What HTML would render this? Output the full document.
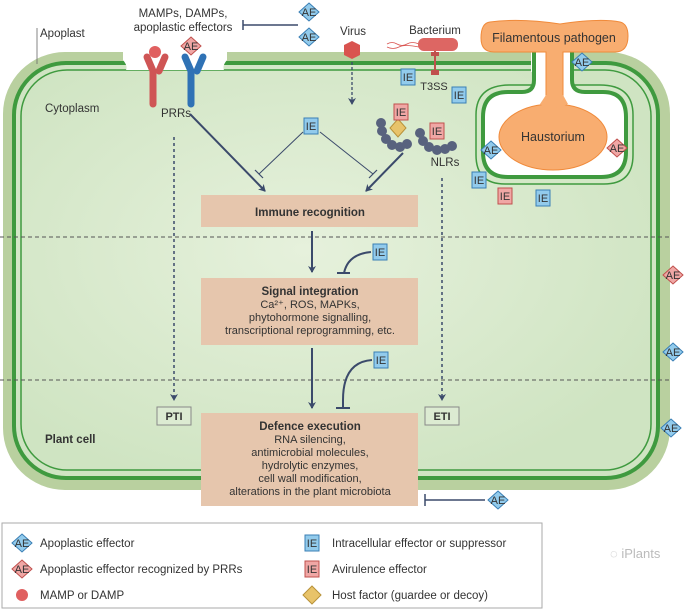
<!DOCTYPE html>
<html><head><meta charset="utf-8"><style>
html,body{margin:0;padding:0;background:#fff;}
svg{display:block;font-family:"Liberation Sans",sans-serif;}
</style></head><body>
<svg width="685" height="611" viewBox="0 0 685 611" xmlns="http://www.w3.org/2000/svg">
<defs>
<radialGradient id="cy" cx="0.45" cy="0.45" r="0.6"><stop offset="0" stop-color="#e6f1dc"/><stop offset="1" stop-color="#cfe4c2"/></radialGradient>
<g id="aeb"><path d="M0,-9 L10,0 L0,9 L-10,0Z" fill="#92cbec" stroke="#3a7fb5" stroke-width="1"/><text x="0" y="4" font-size="11" text-anchor="middle" fill="#333">AE</text></g>
<g id="aer"><path d="M0,-9 L10,0 L0,9 L-10,0Z" fill="#f0a7a5" stroke="#c0504d" stroke-width="1"/><text x="0" y="4" font-size="11" text-anchor="middle" fill="#333">AE</text></g>
<g id="ieb"><rect x="-7" y="-8" width="14" height="16" fill="#92cbec" stroke="#3a7fb5" stroke-width="1"/><text x="0" y="4" font-size="11" text-anchor="middle" fill="#333">IE</text></g>
<g id="ier"><rect x="-7" y="-8" width="14" height="16" fill="#f0a7a5" stroke="#c0504d" stroke-width="1"/><text x="0" y="4" font-size="11" text-anchor="middle" fill="#333">IE</text></g>
<marker id="ah" markerWidth="8" markerHeight="8" refX="6" refY="4" orient="auto" markerUnits="userSpaceOnUse"><path d="M0,0 L7,4 L0,8 L2,4Z" fill="#3b4a6b"/></marker>
</defs>
<!-- wall -->
<rect x="3" y="52" width="667" height="438" rx="62" fill="#b9d09f"/>
<rect x="14" y="63" width="644" height="415" rx="52" fill="url(#cy)" stroke="#3f9a3f" stroke-width="4"/>
<rect x="21" y="70" width="630" height="400" rx="46" fill="none" stroke="#3f9a3f" stroke-width="1.5"/>
<!-- white blob at PRRs -->
<path d="M123,48 L227,48 L227,60 Q222,66 224,70 L126,70 Q128,66 123,60Z" fill="#fff"/>
<!-- pathogen gap -->
<rect x="531" y="40" width="42" height="32" fill="#fff"/>
<path d="M541,40 L541,76 Q541,85 532,85 L510,85 Q476,85 476,115 L476,155 Q476,184 505,184 L604,184 Q633,184 633,155 L633,115 Q633,85 600,85 L575,85 Q566,85 566,76 L566,40" fill="#d4e8c7" stroke="#3f9a3f" stroke-width="1.5"/>
<path d="M534,40 L534,80 Q534,92 522,92 L508,92 Q483,92 483,117 L483,152 Q483,177 508,177 L601,177 Q626,177 626,152 L626,117 Q626,92 603,92 L585,92 Q572,92 572,80 L572,40" fill="#fff" stroke="#3f9a3f" stroke-width="4"/>
<rect x="536" y="40" width="34" height="24" fill="#fff"/>
<!-- pathogen -->
<path d="M490,22 Q520,18 560,24 Q600,18 620,22 Q628,24 628,36 Q628,52 615,52 L563,52 L563,100 L546,100 L546,52 L494,52 Q481,52 481,38 Q481,23 490,22Z" fill="#f8ad70" stroke="#f08a3a" stroke-width="1"/>
<ellipse cx="553" cy="137" rx="54" ry="33" fill="#f8ad70" stroke="#f08a3a" stroke-width="1"/>
<path d="M540,104 Q550,112 568,104 L563,95 L546,95Z" fill="#f8ad70"/>
<text x="554" y="42" font-size="12.5" text-anchor="middle" fill="#333">Filamentous pathogen</text>
<text x="553" y="141" font-size="12.5" text-anchor="middle" fill="#333">Haustorium</text>
<!-- dashed lines -->
<line x1="0" y1="237" x2="670" y2="237" stroke="#555" stroke-width="1" stroke-dasharray="4,3"/>
<line x1="0" y1="380" x2="670" y2="380" stroke="#555" stroke-width="1" stroke-dasharray="4,3"/>
<!-- labels -->
<line x1="37" y1="28" x2="37" y2="64" stroke="#666" stroke-width="0.8"/>
<text x="40" y="37" font-size="11.5" fill="#333">Apoplast</text>
<text x="45" y="112" font-size="11.5" fill="#333">Cytoplasm</text>
<text x="45" y="443" font-size="11.5" font-weight="bold" fill="#333">Plant cell</text>
<text x="183" y="17" font-size="11.5" text-anchor="middle" fill="#333">MAMPs, DAMPs,</text>
<text x="183" y="31" font-size="11.5" text-anchor="middle" fill="#333">apoplastic effectors</text>
<line x1="243" y1="25" x2="298" y2="25" stroke="#3b4a6b" stroke-width="1.5"/>
<line x1="243" y1="20" x2="243" y2="30" stroke="#3b4a6b" stroke-width="1.5"/>
<use href="#aeb" x="309" y="12"/><use href="#aeb" x="309" y="37"/>
<!-- PRRs -->
<path d="M147,57 L153,71 L153,104 M159,71 L165,57" stroke="#cf5555" stroke-width="7" stroke-linecap="round" fill="none"/>
<circle cx="155" cy="52" r="6" fill="#e06060"/>
<path d="M185,57 L191,71 L191,104 M197,71 L203,57" stroke="#2f72b5" stroke-width="7" stroke-linecap="round" fill="none"/>
<use href="#aer" x="191" y="46"/>
<text x="176" y="117" font-size="11.5" text-anchor="middle" fill="#333">PRRs</text>
<!-- virus -->
<text x="353" y="35" font-size="11.5" text-anchor="middle" fill="#333">Virus</text>
<path d="M352,41 L360,45 L360,55 L352,59 L344,55 L344,45Z" fill="#d9534f"/>
<line x1="352" y1="62" x2="352" y2="104" stroke="#3b4a6b" stroke-width="1.3" stroke-dasharray="3,2" marker-end="url(#ah)"/>
<!-- bacterium -->
<text x="435" y="34" font-size="11.5" text-anchor="middle" fill="#333">Bacterium</text>
<path d="M387,44 q5,-3 10,0 q5,3 10,0 q5,-3 12,0 M387,47 q6,3 12,0 q5,-3 20,0" stroke="#d9534f" stroke-width="0.8" fill="none"/>
<rect x="418" y="38" width="40" height="13" rx="6" fill="#dd6663"/>
<line x1="435" y1="51" x2="435" y2="72" stroke="#c0504d" stroke-width="2"/>
<rect x="431" y="52" width="8" height="4" fill="#c0504d"/><rect x="431" y="70" width="8" height="5" fill="#c0504d"/>
<text x="434" y="90" font-size="11" text-anchor="middle" fill="#333">T3SS</text>
<use href="#ieb" x="408" y="77"/><use href="#ieb" x="459" y="95"/>
<!-- NLRs -->
<g fill="#58627e">
<circle cx="381" cy="123" r="5"/><circle cx="382" cy="131" r="5"/><circle cx="386" cy="139" r="5"/><circle cx="392" cy="145" r="5"/><circle cx="400" cy="147" r="5"/><circle cx="407" cy="144" r="5"/>
<circle cx="420" cy="133" r="5"/><circle cx="423" cy="141" r="5"/><circle cx="429" cy="147" r="5"/><circle cx="437" cy="150" r="5"/><circle cx="445" cy="149" r="5"/><circle cx="452" cy="146" r="5"/>
</g>
<path d="M398,119 L406,128 L398,137 L390,128Z" fill="#e8c36a" stroke="#b8923a" stroke-width="1"/>
<use href="#ier" x="401" y="112"/><use href="#ier" x="437" y="131"/>
<text x="445" y="166" font-size="11.5" text-anchor="middle" fill="#333">NLRs</text>
<!-- haustorium effectors -->
<use href="#aeb" x="582" y="62"/><use href="#aeb" x="491" y="150"/><use href="#aer" x="617" y="148"/>
<use href="#ieb" x="479" y="180"/><use href="#ier" x="505" y="196"/><use href="#ieb" x="543" y="198"/>
<!-- arrows top -->
<line x1="190" y1="114" x2="265" y2="191" stroke="#3b4a6b" stroke-width="2" marker-end="url(#ah)"/>
<line x1="403" y1="153" x2="366" y2="191" stroke="#3b4a6b" stroke-width="2" marker-end="url(#ah)"/>
<use href="#ieb" x="311" y="126"/>
<line x1="303" y1="132" x2="259" y2="174" stroke="#3b4a6b" stroke-width="1"/>
<line x1="255" y1="170" x2="263" y2="178" stroke="#3b4a6b" stroke-width="1.2"/>
<line x1="320" y1="132" x2="373" y2="174" stroke="#3b4a6b" stroke-width="1"/>
<line x1="369" y1="178" x2="377" y2="170" stroke="#3b4a6b" stroke-width="1.2"/>
<!-- PTI ETI dashed -->
<line x1="174" y1="137" x2="174" y2="400" stroke="#3b4a6b" stroke-width="1.5" stroke-dasharray="3,3" marker-end="url(#ah)"/>
<line x1="442" y1="178" x2="442" y2="400" stroke="#3b4a6b" stroke-width="1.5" stroke-dasharray="3,3" marker-end="url(#ah)"/>
<rect x="157" y="407" width="34" height="18" fill="#dcebd2" stroke="#888" stroke-width="1"/>
<text x="174" y="420" font-size="11" font-weight="bold" text-anchor="middle" fill="#333">PTI</text>
<rect x="425" y="407" width="34" height="18" fill="#dcebd2" stroke="#888" stroke-width="1"/>
<text x="442" y="420" font-size="11" font-weight="bold" text-anchor="middle" fill="#333">ETI</text>
<!-- boxes -->
<rect x="201" y="195" width="217" height="32" fill="#e6c6ad"/>
<text x="310" y="216" font-size="11.5" font-weight="bold" text-anchor="middle" fill="#333">Immune recognition</text>
<rect x="201" y="278" width="217" height="67" fill="#e6c6ad"/>
<text x="310" y="295" font-size="11.5" font-weight="bold" text-anchor="middle" fill="#333">Signal integration</text>
<text x="310" y="308" font-size="11" text-anchor="middle" fill="#333">Ca²⁺, ROS, MAPKs,</text>
<text x="310" y="321" font-size="11" text-anchor="middle" fill="#333">phytohormone signalling,</text>
<text x="310" y="334" font-size="11" text-anchor="middle" fill="#333">transcriptional reprogramming, etc.</text>
<rect x="201" y="413" width="217" height="93" fill="#e6c6ad"/>
<text x="310" y="430" font-size="11.5" font-weight="bold" text-anchor="middle" fill="#333">Defence execution</text>
<text x="310" y="443" font-size="11" text-anchor="middle" fill="#333">RNA silencing,</text>
<text x="310" y="456" font-size="11" text-anchor="middle" fill="#333">antimicrobial molecules,</text>
<text x="310" y="469" font-size="11" text-anchor="middle" fill="#333">hydrolytic enzymes,</text>
<text x="310" y="482" font-size="11" text-anchor="middle" fill="#333">cell wall modification,</text>
<text x="310" y="495" font-size="11" text-anchor="middle" fill="#333">alterations in the plant microbiota</text>
<!-- vertical arrows -->
<line x1="312" y1="231" x2="312" y2="272" stroke="#3b4a6b" stroke-width="2" marker-end="url(#ah)"/>
<line x1="312" y1="348" x2="312" y2="408" stroke="#3b4a6b" stroke-width="2" marker-end="url(#ah)"/>
<use href="#ieb" x="380" y="252"/>
<path d="M371,252 Q348,254 344,273" stroke="#3b4a6b" stroke-width="2" fill="none"/>
<line x1="337" y1="273" x2="350" y2="273" stroke="#3b4a6b" stroke-width="2"/>
<use href="#ieb" x="381" y="360"/>
<path d="M372,360 Q343,362 343,400 L343,408" stroke="#3b4a6b" stroke-width="2" fill="none"/>
<line x1="336" y1="408" x2="350" y2="408" stroke="#3b4a6b" stroke-width="2"/>
<!-- right AEs -->
<use href="#aer" x="673" y="275"/><use href="#aeb" x="673" y="352"/><use href="#aeb" x="671" y="428"/>
<use href="#aeb" x="498" y="500"/>
<line x1="425" y1="500" x2="485" y2="500" stroke="#3b4a6b" stroke-width="1.5"/>
<line x1="425" y1="494" x2="425" y2="506" stroke="#3b4a6b" stroke-width="1.5"/>
<!-- legend -->
<rect x="2" y="523" width="540" height="85" fill="#fff" stroke="#aaa" stroke-width="1"/>
<use href="#aeb" x="22" y="543"/>
<text x="40" y="547" font-size="11.5" fill="#333">Apoplastic effector</text>
<use href="#aer" x="22" y="569"/>
<text x="40" y="573" font-size="11.5" fill="#333">Apoplastic effector recognized by PRRs</text>
<circle cx="22" cy="595" r="6" fill="#e06060"/>
<text x="40" y="599" font-size="11.5" fill="#333">MAMP or DAMP</text>
<use href="#ieb" x="312" y="543"/>
<text x="332" y="547" font-size="11.5" fill="#333">Intracellular effector or suppressor</text>
<use href="#ier" x="312" y="569"/>
<text x="332" y="573" font-size="11.5" fill="#333">Avirulence effector</text>
<path d="M312,586 L321,595 L312,604 L303,595Z" fill="#e8c36a" stroke="#b8923a" stroke-width="1"/>
<text x="332" y="599" font-size="11.5" fill="#333">Host factor (guardee or decoy)</text>
<text x="610" y="558" font-size="13" fill="#bbb">◌ iPlants</text>
</svg>
</body></html>
